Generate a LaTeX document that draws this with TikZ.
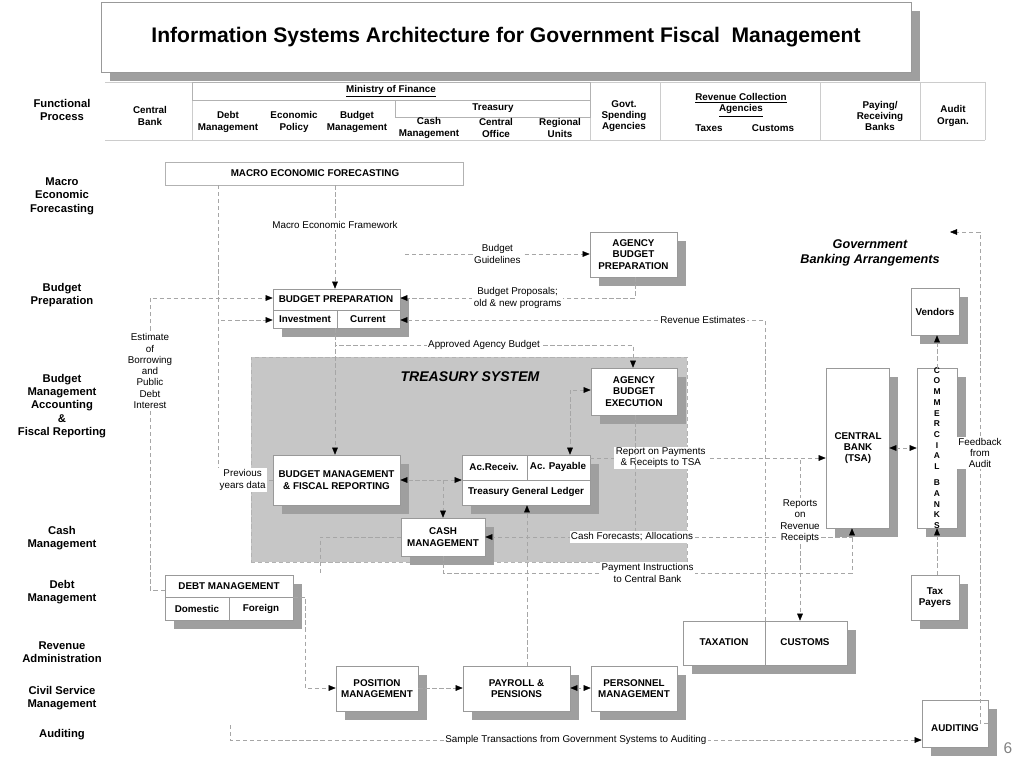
\documentclass[tikz,border=0pt]{standalone}
\usepackage{fontspec}
\setmainfont{Liberation Sans}
\usetikzlibrary{shadows,fit,positioning,arrows.meta}

\tikzset{
  box/.style={draw=gray!80, fill=white, inner sep=0pt, align=center,
    font=\fontsize{7}{8}\selectfont\bfseries,
    general shadow={fill=gray!75, shadow xshift=2.2mm, shadow yshift=-2.2mm}},
  flat/.style={draw=gray!60, fill=white, inner sep=0pt, align=center, font=\fontsize{7}{8}\selectfont\bfseries},
  conn/.style={draw=gray!70, densely dashed, line width=0.3pt, -{Triangle[black,length=5pt,width=4pt]}},
  conn2/.style={conn, {Triangle[black,length=5pt,width=4pt]}-{Triangle[black,length=5pt,width=4pt]}},
  lbl/.style={fill=white, text=black, inner sep=1pt, align=center, font=\fontsize{7}{8}\selectfont},
  rowlbl/.style={align=center, font=\fontsize{8}{9.5}\selectfont\bfseries},
  head/.style={align=center, font=\fontsize{7}{8}\selectfont\bfseries}
}
\newcommand\bx[6][box]{\node[#1,fit={(#3,#4)(#5,#6)}] (#2) {};}

\begin{document}
\begin{tikzpicture}[x=0.025cm,y=-0.025cm]
\useasboundingbox (0,0) rectangle (1024,768);

% title
\bx{title}{101}{2}{911}{72}
\node[font=\fontsize{15}{18}\selectfont\bfseries] at (title) {Information Systems Architecture for Government Fiscal\ \ Management};

% header table
\draw[gray!40] (105,82) -- (985,82) (105,140) -- (985,140);
\foreach \xx in {192,590,660,820,920,985} \draw[gray!40] (\xx,82) -- (\xx,140);
\draw[gray!60] (192,82) rectangle (590,100) (395,100) rectangle (590,117);
\node[rowlbl] at (62,110) {Functional\\Process};
\node[head] at (391,91) {\underline{Ministry of Finance}};
\node[head] at (493,108) {Treasury};
\node[head] at (150,116) {Central\\Bank};
\node[head] at (228,122) {Debt\\Management};
\node[head] at (294,122) {Economic\\Policy};
\node[head] at (357,122) {Budget\\Management};
\node[head] at (429,128) {Cash\\Management};
\node[head] at (496,128) {Central\\Office};
\node[head] at (560,128) {Regional\\Units};
\node[head] at (624,116) {Govt.\\Spending\\Agencies};
\node[head] at (741,105) {\underline{Revenue Collection}\\\underline{Agencies}};
\node[head] at (709,128) {Taxes};
\node[head] at (773,128) {Customs};
\node[head] at (880,116) {Paying/\\Receiving\\Banks};
\node[head] at (953,116) {Audit\\Organ.};

% row labels
\node[rowlbl] at (62,196) {Macro\\Economic\\Forecasting};
\node[rowlbl] at (62,295) {Budget\\Preparation};
\node[rowlbl] at (62,406) {Budget\\Management\\Accounting\\\&\\Fiscal Reporting};
\node[rowlbl] at (62,538) {Cash\\Management};
\node[rowlbl] at (62,592) {Debt\\Management};
\node[rowlbl] at (62,652) {Revenue\\Administration};
\node[rowlbl] at (62,698) {Civil Service\\Management};
\node[rowlbl] at (62,735) {Auditing};

% treasury system
\node[draw=gray!60, densely dashed, fill=gray!45, inner sep=0pt, fit={(251,357)(687,562)}] (tsys) {};
\node[font=\fontsize{10}{12}\selectfont\bfseries\itshape] at (470,377) {TREASURY SYSTEM};
\node[font=\fontsize{9}{11}\selectfont\bfseries\itshape, align=center] at (870,253) {Government\\Banking Arrangements};

% boxes
\bx[flat]{macro}{165}{162}{463}{185}
\node[head] at (315,173) {MACRO ECONOMIC FORECASTING};
\bx{abp}{590}{232}{677}{277}
\node[head] at (abp) {AGENCY\\BUDGET\\PREPARATION};
\bx{bp}{273}{289}{400}{328}
\draw[gray!80] (273,310) -- (400,310) (337,310) -- (337,328);
\node[head] at (336,299) {BUDGET PREPARATION};
\node[head] at (305,319) {Investment};
\node[head] at (368,319) {Current};
\bx{abe}{591}{368}{677}{415}
\node[head] at (abe) {AGENCY\\BUDGET\\EXECUTION};
\bx{bmfr}{273}{455}{400}{505}
\node[head] at (bmfr) {BUDGET MANAGEMENT\\\& FISCAL REPORTING};
\bx{tgl}{462}{455}{590}{505}
\draw[gray!80] (462,480) -- (590,480) (527,455) -- (527,480);
\node[head] at (494,467) {Ac.Receiv.};
\node[head] at (558,467) {Ac. Payable};
\node[head] at (526,492) {Treasury General Ledger};
\bx{cash}{401}{518}{485}{556}
\node[head] at (cash) {CASH\\MANAGEMENT};
\bx{debt}{165}{575}{293}{620}
\draw[gray!80] (165,597) -- (293,597) (229,597) -- (229,620);
\node[head] at (229,586) {DEBT MANAGEMENT};
\node[head] at (197,609) {Domestic};
\node[head] at (261,609) {Foreign};
\bx{rev}{683}{621}{847}{665}
\draw[gray!80] (765,621) -- (765,665);
\node[head] at (724,642) {TAXATION};
\node[head] at (805,642) {CUSTOMS};
\bx{pos}{336}{666}{418}{711}
\node[head] at (pos) {POSITION\\MANAGEMENT};
\bx{pay}{463}{666}{570}{711}
\node[head] at (pay) {PAYROLL \&\\PENSIONS};
\bx{pers}{591}{666}{677}{711}
\node[head] at (pers) {PERSONNEL\\MANAGEMENT};
\bx{cb}{826}{368}{889}{528}
\node[head] at (858,448) {CENTRAL\\BANK\\(TSA)};
\bx{comm}{917}{368}{957}{528}
\node[head, font=\fontsize{6}{7.6}\selectfont\bfseries] at (937,448) {C\\O\\M\\M\\E\\R\\C\\I\\A\\L\\[4pt]B\\A\\N\\K\\S};
\bx{vend}{911}{288}{959}{335}
\node[head] at (vend) {Vendors};
\bx{taxp}{911}{575}{959}{620}
\node[head] at (taxp) {Tax\\Payers};
\bx{audit}{922}{700}{988}{747}
\node[head] at (955,728) {AUDITING};
\node[text=gray, font=\fontsize{11}{12}\selectfont] at (1008,748) {6};

% connectors
\draw[conn] (macro.south -| 335,0) -- node[lbl, pos=0.38] {Macro Economic Framework} (bp.north -| 335,0);
\draw[conn] (405,254) -- node[lbl] {Budget\\Guidelines} (abp.west |- 0,254);
\draw[conn] (abp.south -| 635,0) -- (635,298) -- node[lbl] {Budget Proposals;\\old \& new programs} (bp.east |- 0,298);
\draw[conn] (rev.north -| 765,0) -- (765,320) -- node[lbl, pos=0.17] {Revenue Estimates} (bp.east |- 0,320);
\draw[conn] (debt.west |- 0,590) -- (150,590) -- node[lbl, pos=0.75] {Estimate\\of\\Borrowing\\and\\Public\\Debt\\Interest} (150,298) -- (bp.west |- 0,298);
\draw[conn] (bmfr.west |- 0,480) -- node[lbl, pos=0.55] {Previous\\years data} (218,480) -- (218,320) -- (bp.west |- 0,320);
\draw[gray!70, densely dashed] (218,185) -- (218,320);
\draw[conn] (bp.south -| 335,0) -- (335,345) -- node[lbl] {Approved Agency Budget} (633,345) -- (abe.north -| 633,0);
\draw[conn] (bp.south -| 335,0) -- (bmfr.north -| 335,0);
\draw[conn2] (abe.west |- 0,390) -- (570,390) -- (tgl.north -| 570,0);
\draw[conn2] (tgl.west |- 0,480) -- (bmfr.east |- 0,480);
\draw[conn] (443,480) -- (cash.north -| 443,0);
\draw[conn] (590,458) -- node[lbl, pos=0.3] {Report on Payments\\\& Receipts to TSA} (cb.west |- 0,458);
\draw[gray!70, densely dashed] (abe.south -| 635,0) -- (635,537);
\draw[conn] (cb.south -| 852,0) -- (852,537) -- node[lbl, pos=0.6] {Cash Forecasts; Allocations} (cash.east |- 0,537);
\draw[conn] (cash.south -| 443,0) -- (443,573) -- node[lbl] {Payment Instructions\\to Central Bank} (852,573) -- (cb.south -| 852,0);
\draw[conn] (800,460) -- node[lbl, pos=0.38] {Reports\\on\\Revenue\\Receipts} (rev.north -| 800,0);
\draw[gray!70, densely dashed] (cash.west |- 0,537) -- (320,537) -- (320,575);
\draw[conn] (debt.east |- 0,597) -- (305,597) -- (305,688) -- (pos.west |- 0,688);
\draw[conn] (pos.east |- 0,688) -- (pay.west |- 0,688);
\draw[conn2] (pay.east |- 0,688) -- (pers.west |- 0,688);
\draw[conn] (pay.north -| 527,0) -- (tgl.south -| 527,0);
\draw[conn2] (cb.east |- 0,448) -- (comm.west |- 0,448);
\draw[conn] (comm.north -| 937,0) -- (vend.south -| 937,0);
\draw[conn] (taxp.north -| 937,0) -- (comm.south -| 937,0);
\draw[conn] (audit.east |- 0,723) -- (980,723) -- node[lbl, pos=0.55] {Feedback\\from\\Audit} (980,232) -- (950,232);
\draw[conn] (230,725) -- (230,740) -- node[lbl] {Sample Transactions from Government Systems to Auditing} (audit.west |- 0,740);
\end{tikzpicture}
\end{document}
